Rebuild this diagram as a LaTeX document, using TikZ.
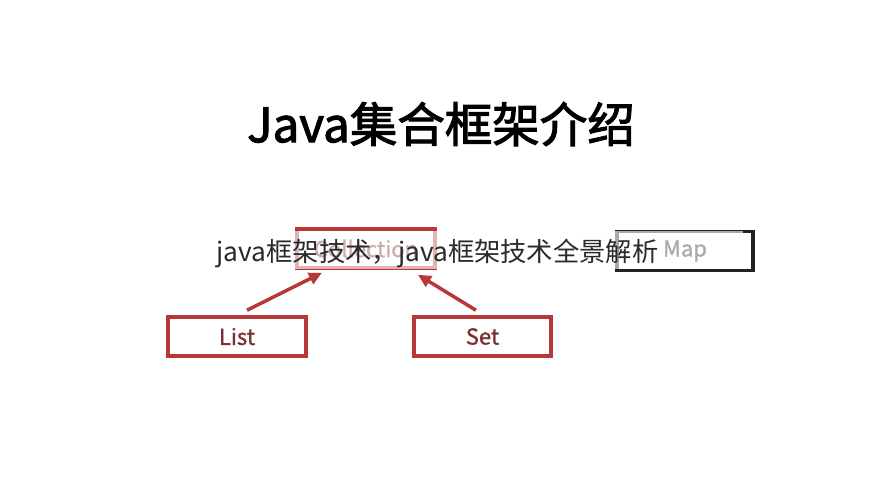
\documentclass[tikz,border=0pt]{standalone}
\usepackage{fontspec}
\newfontfamily\cjk{Noto Sans CJK SC}
\newfontfamily\cjktitle{Noto Sans CJK SC}[FakeBold=2.2]
\newfontfamily\cjklabel{Noto Sans CJK SC}[FakeBold=1.2]
\usetikzlibrary{arrows.meta}
\definecolor{boxred}{HTML}{B8383A}
\definecolor{labelred}{HTML}{7A3030}
\definecolor{mapdark}{HTML}{222222}
\definecolor{wmark}{HTML}{2A2A2A}
\tikzset{
  redbox/.style={draw=boxred, line width=3.5pt, minimum width=#1, minimum height=39pt, inner sep=0pt, font=\cjklabel\fontsize{22}{24}\selectfont, text=labelred},
  redbox/.default=138pt,
  arr/.style={draw=boxred, line width=3.5pt, -{Triangle[length=13pt,width=12pt]}},
}
\begin{document}
\begin{tikzpicture}[x=1pt,y=-1pt]
\useasboundingbox[fill=white] (0,0) rectangle (879,490);
\node[font=\cjktitle\fontsize{47.5}{50}\selectfont, text=black, inner sep=0pt] (title) at (441,124) {Java集合框架介绍};
\node[redbox=138pt] (coll) at (366,248.5) {Collection};
\node[redbox=136pt, draw=mapdark, text=mapdark] (map) at (685,251) {Map};
\node[redbox=138pt] (list) at (237,336.5) {List};
\node[redbox=137pt] (set) at (482.5,336.5) {Set};
\draw[arr] ([xshift=10pt,yshift=5pt]list.north) -- ([xshift=-44pt,yshift=-3pt]coll.south);
\draw[arr] ([xshift=-6.5pt,yshift=5pt]set.north) -- ([xshift=52pt,yshift=-5pt]coll.south);
\fill[white, opacity=0.62] (205,231) rectangle (743,268.5);
\node[font=\cjk\fontsize{26.3}{28}\selectfont, text=wmark, inner sep=0pt] (wm) at (437.5,253) {java框架技术，java框架技术全景解析};
\end{tikzpicture}
\end{document}
